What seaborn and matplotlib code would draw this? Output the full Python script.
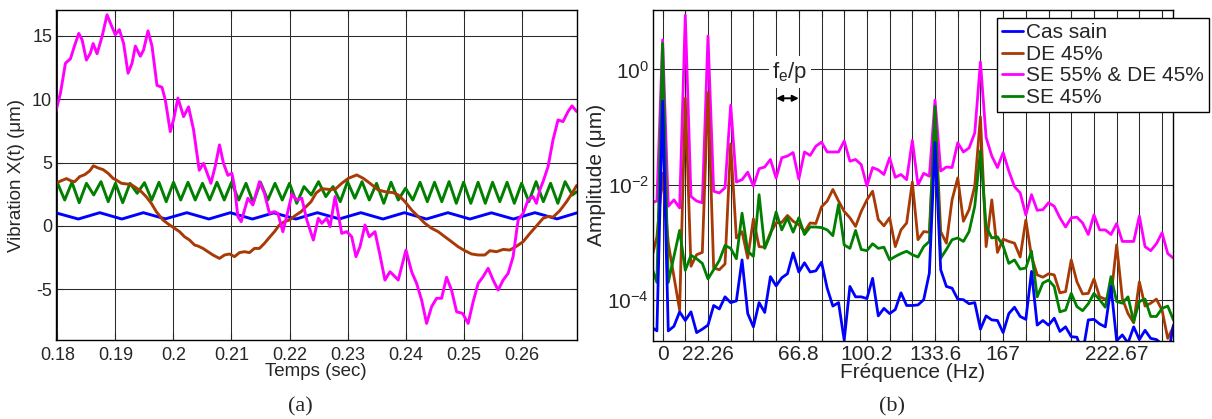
import numpy as np
import pandas as pd
import matplotlib
matplotlib.use("Agg")
import matplotlib.pyplot as plt
import seaborn as sns
from matplotlib.lines import Line2D
from matplotlib.ticker import FixedLocator, FixedFormatter, NullLocator

# ------------------------------------------------------------------ data
series_names = ["Cas sain", "DE 45%", "SE 55% & DE 45%", "SE 45%"]
series_colors = ["#0000FF", "#A83A05", "#FF00FF", "#007F00"]

# (a) time signals  (time in s, vibration in micrometres)
blue_t = [0.1797, 0.1836, 0.1873, 0.1911, 0.1948, 0.1986, 0.2023, 0.2061, 0.2098,
          0.2136, 0.2173, 0.2211, 0.2248, 0.2286, 0.2323, 0.2361, 0.2398, 0.2436,
          0.2473, 0.2511, 0.2548, 0.2586, 0.2623, 0.2661, 0.2695]
blue_v = [1.04, 0.55, 1.05, 0.55, 1.05, 0.56, 1.05, 0.55, 1.05,
          0.55, 1.04, 0.55, 1.05, 0.56, 1.05, 0.55, 1.05, 0.55,
          1.05, 0.55, 1.04, 0.55, 1.05, 0.56, 1.03]

green_t = [0.1797, 0.1800, 0.18125, 0.1825, 0.18375, 0.1850, 0.18625, 0.1875, 0.18875,
           0.1900, 0.19125, 0.1925, 0.19375, 0.1950, 0.19625, 0.1975, 0.19875, 0.2000,
           0.20125, 0.2025, 0.20375, 0.2050, 0.20625, 0.2075, 0.20875, 0.2100, 0.21125,
           0.2125, 0.21375, 0.2150, 0.21625, 0.2175, 0.21875, 0.2200, 0.22125, 0.2225,
           0.22375, 0.2250, 0.22625, 0.2275, 0.22875, 0.2300, 0.23125, 0.2325, 0.23375,
           0.2350, 0.23625, 0.2375, 0.23875, 0.2400, 0.24125, 0.2425, 0.24375, 0.2450,
           0.24625, 0.2475, 0.24875, 0.2500, 0.25125, 0.2525, 0.25375, 0.2550, 0.25625,
           0.2575, 0.25875, 0.2600, 0.26125, 0.2625, 0.26375, 0.2650, 0.26625, 0.2675,
           0.26875, 0.2695]
green_v = [3.30, 3.40, 2.05, 3.45, 1.84, 3.37, 2.45, 3.50, 1.92,
           3.37, 1.84, 3.37, 2.58, 3.42, 2.05, 3.45, 1.92, 3.45,
           2.05, 3.45, 2.05, 3.37, 2.05, 3.45, 2.05, 3.45, 2.05,
           3.37, 1.84, 3.45, 2.05, 3.37, 2.05, 3.37, 1.79, 3.11,
           2.45, 3.50, 2.32, 3.11, 1.92, 3.50, 2.19, 3.50, 2.05,
           3.37, 1.79, 3.45, 2.05, 2.98, 2.05, 3.45, 1.92, 3.45,
           1.92, 3.50, 1.79, 3.45, 1.79, 3.45, 1.79, 3.45, 1.92,
           3.45, 1.79, 3.37, 1.92, 3.50, 1.92, 3.37, 1.79, 3.50,
           2.45, 2.70]

brown_t = [0.1797, 0.18069, 0.18155, 0.18241, 0.18298, 0.18384, 0.18470, 0.18556,
           0.18620, 0.18701, 0.18787, 0.18873, 0.18959, 0.19015, 0.19102, 0.19188,
           0.19274, 0.19360, 0.19446, 0.19532, 0.19618, 0.19704, 0.19819, 0.19933,
           0.20019, 0.20105, 0.20191, 0.20277, 0.20363, 0.20422, 0.20508, 0.20594,
           0.20680, 0.20793, 0.20880, 0.20966, 0.21052, 0.21138, 0.21224, 0.21310,
           0.21396, 0.21482, 0.21568, 0.21654, 0.21740, 0.21826, 0.21912, 0.21998,
           0.22114, 0.22200, 0.22286, 0.22372, 0.22458, 0.22556, 0.22670, 0.22785,
           0.22900, 0.23014, 0.23158, 0.23272, 0.23387, 0.23530, 0.23645, 0.23788,
           0.23874, 0.23990, 0.24105, 0.24219, 0.24334, 0.24449, 0.24563, 0.24678,
           0.24793, 0.24907, 0.25022, 0.25138, 0.25251, 0.25367, 0.25453, 0.25568,
           0.25682, 0.25797, 0.25912, 0.26026, 0.26141, 0.26256, 0.26370, 0.26456,
           0.26542, 0.26657, 0.26773, 0.26859, 0.26950]
brown_v = [3.37, 3.58, 3.74, 3.55, 3.50, 3.90, 4.05, 4.35,
           4.75, 4.58, 4.45, 4.16, 3.76, 3.63, 3.37, 3.32,
           3.26, 3.00, 2.71, 2.30, 1.79, 1.13, 0.47, 0.08,
           -0.18, -0.45, -0.85, -1.11, -1.50, -1.58, -1.77, -2.03,
           -2.29, -2.56, -2.29, -2.21, -2.42, -2.10, -2.03, -2.10,
           -1.77, -1.77, -1.37, -0.90, -0.45, 0.08, 0.34, 0.47,
           0.87, 1.13, 1.53, 1.92, 2.60, 2.95, 2.89, 2.89,
           3.37, 3.76, 4.03, 3.76, 3.37, 2.84, 2.71, 2.63,
           2.45, 1.92, 1.26, 0.74, 0.21, -0.18, -0.45, -0.85,
           -1.24, -1.64, -1.95, -2.21, -2.29, -2.29, -1.95, -2.03,
           -1.85, -1.90, -1.60, -1.24, -0.60, 0.00, 0.60, 0.75,
           0.70, 1.20, 1.90, 2.50, 3.20]

magenta_t = [0.1797, 0.18052, 0.18138, 0.18224, 0.18293, 0.18367, 0.18425, 0.18499,
             0.18568, 0.18615, 0.18683, 0.18769, 0.18855, 0.18941, 0.18998, 0.19067,
             0.19141, 0.19217, 0.19286, 0.19343, 0.19429, 0.19485, 0.19561, 0.19630,
             0.19716, 0.19802, 0.19859, 0.19945, 0.20002, 0.20077, 0.20174, 0.20260,
             0.20346, 0.20444, 0.20518, 0.20645, 0.20719, 0.20793, 0.20862, 0.20938,
             0.21007, 0.21052, 0.21110, 0.21167, 0.21282, 0.21368, 0.21482, 0.21568,
             0.21654, 0.21740, 0.21799, 0.21885, 0.21971, 0.22040, 0.22126, 0.22212,
             0.22298, 0.22411, 0.22497, 0.22556, 0.22642, 0.22699, 0.22785, 0.22900,
             0.22986, 0.23072, 0.23146, 0.23215, 0.23301, 0.23375, 0.23473, 0.23559,
             0.23645, 0.23731, 0.23818, 0.23874, 0.24007, 0.24105, 0.24191, 0.24277,
             0.24363, 0.24449, 0.24535, 0.24621, 0.24707, 0.24793, 0.24880, 0.24983,
             0.25079, 0.25165, 0.25251, 0.25337, 0.25423, 0.25510, 0.25596, 0.25682,
             0.25768, 0.25854, 0.25940, 0.26026, 0.26112, 0.26198, 0.26256, 0.26313,
             0.26370, 0.26456, 0.26542, 0.26628, 0.26714, 0.26800, 0.26869, 0.26950]
magenta_v = [9.00, 10.50, 12.85, 13.20, 14.20, 15.20, 14.70, 13.10,
             13.65, 14.40, 13.60, 14.95, 16.67, 15.70, 15.10, 15.50,
             14.40, 12.06, 12.85, 14.20, 13.40, 13.90, 15.40, 14.20,
             11.10, 10.95, 9.95, 7.45, 8.40, 10.10, 8.63, 9.40,
             7.60, 4.40, 4.95, 3.37, 4.70, 6.40, 4.95, 4.00,
             4.16, 3.10, 0.73, 0.34, 2.19, 1.66, 3.50, 2.58,
             1.00, 1.13, 1.00, -0.45, 1.13, 2.50, 2.05, 2.19,
             0.47, -1.11, 0.61, 0.21, 0.61, -0.05, 2.32, -0.58,
             -0.45, -0.85, -2.42, -1.63, 0.08, -0.85, -0.45, -2.29,
             -4.27, -3.61, -4.00, -4.27, -1.90, -3.61, -4.53, -5.85,
             -7.69, -6.37, -5.71, -5.71, -4.05, -5.06, -6.77, -6.90,
             -7.69, -5.98, -4.53, -4.00, -3.34, -4.27, -5.06, -4.27,
             -3.74, -2.42, 0.47, 1.00, 2.05, 2.32, 1.79, 2.84,
             3.50, 4.68, 6.80, 8.37, 8.24, 9.03, 9.48, 9.03]

time_ticks = [0.18, 0.19, 0.20, 0.21, 0.22, 0.23, 0.24, 0.25, 0.26]
time_tick_labels = ["0.18", "0.19", "0.2", "0.21", "0.22", "0.23", "0.24", "0.25", "0.26"]
vib_ticks = [-5, 0, 5, 10, 15]

# (b) spectra: log10 of amplitude (micrometres), one value per frequency bin
f0 = 11.1335                      # grid spacing (fe/p)
freq_step = f0 / 4                # spectral resolution
bin_index = np.arange(-2, 91)     # bins -2 ... 90

log_sain = [-4.46, -4.53, -0.55, -4.53, -4.45, -4.20, -4.35, -4.20, -4.56, -4.50,
            -4.43, -4.09, -4.15, -3.94, -4.04, -4.01, -3.30, -4.23, -4.46, -4.04,
            -4.21, -3.59, -3.75, -3.61, -3.54, -3.18, -3.51, -3.35, -3.51, -3.49,
            -3.34, -3.79, -4.10, -4.04, -4.69, -3.76, -3.94, -3.94, -3.97, -3.62,
            -4.27, -4.14, -4.23, -4.16, -3.87, -4.09, -4.09, -4.08, -3.99, -3.53,
            -1.27, -3.47, -3.76, -3.79, -3.98, -3.99, -4.06, -4.04, -4.50, -4.27,
            -4.34, -4.35, -4.56, -4.23, -4.12, -4.28, -4.33, -3.50, -4.43, -4.35,
            -4.43, -4.31, -4.54, -4.46, -4.63, -4.64, -4.92, -4.34, -4.33, -4.41,
            -4.46, -3.76, -4.70, -4.60, -4.74, -4.46, -4.68, -4.52, -4.66, -4.68,
            -4.76, -4.98, -4.43]
log_de45 = [-3.30, -2.90, -1.80, -3.01, -3.59, -4.17, -0.50, -3.41, -3.21, -3.17,
            -0.40, -3.44, -3.47, -3.37, -1.29, -2.92, -2.81, -3.27, -2.59, -3.07,
            -3.08, -2.83, -2.66, -2.65, -2.53, -2.63, -2.69, -2.81, -2.66, -2.67,
            -2.38, -2.28, -2.08, -2.28, -2.46, -2.57, -2.72, -2.46, -2.26, -2.11,
            -2.60, -2.71, -2.57, -3.07, -2.78, -2.66, -1.95, -2.95, -2.81, -2.82,
            -0.75, -2.81, -3.01, -2.26, -1.88, -2.63, -2.43, -2.02, -0.82, -3.07,
            -2.26, -3.17, -2.94, -2.98, -3.01, -3.25, -2.61, -3.24, -3.56, -3.60,
            -3.54, -3.56, -3.87, -3.85, -3.30, -3.68, -3.89, -3.88, -3.63, -3.94,
            -3.98, -3.94, -3.04, -3.97, -4.23, -4.39, -3.68, -4.10, -4.05, -3.98,
            -4.17, -4.66, -4.46]
log_se55_de45 = [-2.31, -2.28, 0.51, -2.37, -2.26, -2.40, 0.94, -2.20, -2.28, -2.31,
                 0.58, -2.11, -2.14, -2.05, -0.62, -1.95, -1.91, -1.78, -2.02, -1.72,
                 -1.69, -1.56, -1.88, -1.53, -1.50, -1.44, -1.90, -1.43, -1.49, -1.33,
                 -1.26, -1.43, -1.43, -1.43, -1.24, -1.59, -1.56, -1.65, -2.02, -1.70,
                 -1.74, -1.82, -1.53, -1.87, -1.82, -1.91, -1.23, -2.00, -1.80, -1.85,
                 -0.53, -1.76, -1.69, -1.70, -1.27, -1.43, -1.36, -1.10, 0.13, -1.18,
                 -1.50, -1.70, -1.44, -1.76, -2.03, -2.14, -2.52, -2.17, -2.44, -2.43,
                 -2.31, -2.37, -2.57, -2.73, -2.57, -2.56, -2.66, -2.86, -2.52, -2.78,
                 -2.78, -2.86, -2.67, -2.98, -2.98, -2.98, -2.54, -3.07, -3.14, -3.02,
                 -2.83, -3.19, -3.27]
log_se45 = [-3.41, -3.69, 0.45, -3.69, -3.24, -2.79, -3.48, -3.22, -3.28, -3.36,
            -3.63, -3.47, -3.31, -3.05, -3.10, -3.28, -2.49, -3.15, -3.24, -2.17,
            -3.10, -2.86, -2.47, -2.78, -2.57, -2.82, -2.57, -2.86, -2.73, -2.73,
            -2.74, -2.78, -2.88, -2.34, -3.04, -3.10, -2.79, -3.12, -3.14, -3.02,
            -3.10, -3.08, -3.30, -3.24, -3.19, -3.15, -3.21, -3.25, -3.07, -2.98,
            -0.64, -3.27, -3.12, -2.95, -2.92, -2.98, -2.81, -2.37, -1.41, -2.72,
            -2.92, -2.90, -3.06, -3.36, -3.30, -3.46, -3.44, -3.15, -3.94, -3.70,
            -3.65, -3.76, -4.20, -4.17, -3.88, -4.11, -4.18, -4.06, -3.88, -3.99,
            -4.12, -3.59, -4.02, -4.05, -3.94, -4.37, -4.02, -3.98, -4.28, -4.28,
            -4.14, -4.10, -4.34]

freq_grid_index = list(range(0, 23))
freq_label_map = {0: "0", 2: "22.26", 6: "66.8", 9: "100.2", 12: "133.6",
                  15: "167", 20: "222.67"}
amp_ticks = [1e-4, 1e-2, 1e0]
amp_tick_labels = [r"$10^{-4}$", r"$10^{-2}$", r"$10^{0}$"]

# ------------------------------------------------------------------ style
sns.set_style("ticks")
plt.rcParams["font.family"] = ["Liberation Sans", "DejaVu Sans"]
plt.rcParams["mathtext.fontset"] = "custom"
plt.rcParams["mathtext.rm"] = "Liberation Sans"
plt.rcParams["mathtext.it"] = "Liberation Sans:italic"
plt.rcParams["mathtext.bf"] = "Liberation Sans:bold"
plt.rcParams["axes.unicode_minus"] = False

fig = plt.figure(figsize=(12.12, 4.19), dpi=100)
W, H = 1212.0, 419.0
ax1 = fig.add_axes([55.7 / W, 1 - 340.0 / H, (576.7 - 55.7) / W, (340.0 - 10.0) / H])
ax2 = fig.add_axes([653.0 / W, 1 - 340.7 / H, (1173.0 - 653.0) / W, (340.7 - 10.0) / H])

grid_kw = dict(color="#2a2a2a", linewidth=0.75)

# ---------------- (a)
time_data = {
    "Cas sain": (blue_t, blue_v),
    "DE 45%": (brown_t, brown_v),
    "SE 55% & DE 45%": (magenta_t, magenta_v),
    "SE 45%": (green_t, green_v),
}
color_of = dict(zip(series_names, series_colors))
for name in ["Cas sain", "SE 45%", "DE 45%", "SE 55% & DE 45%"]:
    t, v = time_data[name]
    df = pd.DataFrame({"t": t, "v": v})
    sns.lineplot(data=df, x="t", y="v", color=color_of[name], linewidth=2.1,
                 sort=False, estimator=None, ax=ax1, legend=False)

ax1.set_xlim(0.1797, 0.2695)
ax1.set_ylim(-9, 17.05)
ax1.set_xticks(time_ticks)
ax1.set_xticklabels(time_tick_labels)
ax1.set_yticks(vib_ticks)
ax1.set_yticklabels([str(v) for v in vib_ticks])
ax1.grid(True, **grid_kw)
ax1.set_axisbelow(True)
ax1.tick_params(direction="in", top=True, right=True, length=5, width=0.8,
                labelsize=13, pad=5)
ax1.tick_params(axis="y", pad=2.5)
ax1.set_xlabel("Temps (sec)", fontsize=13.5)
ax1.set_ylabel("Vibration X(t) (μm)", fontsize=13.5)
ax1.xaxis.set_label_coords(0.5, (340.0 - 371.7) / 330.0)
ax1.xaxis.label.set_va("center")
ax1.yaxis.set_label_coords((16.7 - 55.7) / 521.0, 0.5)
ax1.yaxis.label.set_va("center")
for s in ax1.spines.values():
    s.set_linewidth(1.0)
    s.set_color("black")

# ---------------- (b)
freqs = bin_index * freq_step
spec_data = {
    "Cas sain": log_sain,
    "DE 45%": log_de45,
    "SE 55% & DE 45%": log_se55_de45,
    "SE 45%": log_se45,
}
for name in ["SE 55% & DE 45%", "DE 45%", "SE 45%", "Cas sain"]:
    df = pd.DataFrame({"f": freqs, "a": 10.0 ** np.asarray(spec_data[name])})
    sns.lineplot(data=df, x="f", y="a", color=color_of[name], linewidth=2.0,
                 sort=False, estimator=None, ax=ax2, legend=False)

ax2.set_yscale("log")
ax2.set_xlim(-4.7, 250.3)
ax2.set_ylim(10 ** -4.70, 10 ** 1.03)
grid_pos = [k * f0 for k in freq_grid_index]
ax2.xaxis.set_major_locator(FixedLocator(grid_pos))
ax2.xaxis.set_major_formatter(FixedFormatter([freq_label_map.get(k, "") for k in freq_grid_index]))
ax2.yaxis.set_major_locator(FixedLocator(amp_ticks))
ax2.yaxis.set_major_formatter(FixedFormatter(amp_tick_labels))
ax2.yaxis.set_minor_locator(NullLocator())
ax2.xaxis.set_minor_locator(NullLocator())
ax2.grid(True, **grid_kw)
ax2.set_axisbelow(True)
ax2.tick_params(direction="in", top=True, right=True, length=5, width=0.8,
                labelsize=15, pad=3)
ax2.set_xlabel("Fréquence (Hz)", fontsize=15)
ax2.set_ylabel("Amplitude (μm)", fontsize=15)
ax2.xaxis.set_label_coords(0.5, (340.7 - 372.7) / 330.7)
ax2.xaxis.label.set_va("center")
ax2.yaxis.set_label_coords((597.0 - 653.0) / 520.0, 0.5)
ax2.yaxis.label.set_va("center")
for s in ax2.spines.values():
    s.set_linewidth(1.0)
    s.set_color("black")

# fe/p annotation
ax2.annotate("", xy=(6 * f0, 10 ** -0.50), xytext=(5 * f0, 10 ** -0.50),
             arrowprops=dict(arrowstyle="<|-|>", color="black", lw=1.4,
                             mutation_scale=9, shrinkA=0, shrinkB=0))
ax2.text(5.6 * f0, 10 ** -0.05, r"f$_\mathregular{e}$/p", ha="center", va="center",
         fontsize=16, bbox=dict(facecolor="white", edgecolor="none", pad=2.5))

handles = [Line2D([0], [0], color=c, linewidth=2.0) for c in series_colors]
leg = ax2.legend(handles, series_names, loc="upper left",
                 bbox_to_anchor=(0.661, 0.975), fontsize=15, frameon=True,
                 fancybox=False, framealpha=1.0, edgecolor="black",
                 handlelength=1.0, handletextpad=0.15, borderpad=0.25,
                 labelspacing=0.12, borderaxespad=0.0)
leg.get_frame().set_linewidth(1.0)

fig.text(300.0 / W, 1 - 406.7 / H, "(a)", ha="center", va="center",
         family=["Liberation Serif", "DejaVu Serif"], fontsize=16)
fig.text(892.0 / W, 1 - 406.7 / H, "(b)", ha="center", va="center",
         family=["Liberation Serif", "DejaVu Serif"], fontsize=16)

fig.savefig("out.png", dpi=100)
